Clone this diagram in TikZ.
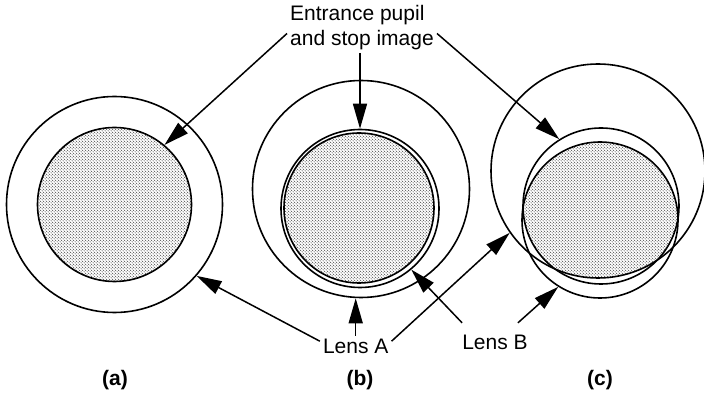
\documentclass[tikz,border=0pt]{standalone}
\usepackage{fontspec}
\setmainfont{Liberation Sans}
\usetikzlibrary{arrows.meta,patterns.meta}
\tikzdeclarepattern{
  name=speckdots,
  type=uncolored,
  bounding box={(0pt,0pt) and (3.4pt,3.4pt)},
  tile size={(3.4pt,3.4pt)},
  code={
    \fill (0.85pt,0.85pt) circle[radius=0.6pt];
    \fill (2.55pt,2.55pt) circle[radius=0.6pt];
  }
}

\begin{document}
\begin{tikzpicture}[x=1pt, y=-1pt,
  rim/.style={draw, circle, line width=1.6pt, inner sep=0pt, minimum size=#1},
  speckle/.style={pattern=speckdots, pattern color=black!80},
  lbl/.style={font=\fontsize{21pt}{25pt}\selectfont, inner sep=3pt},
  sub/.style={font=\fontsize{21pt}{25pt}\selectfont\bfseries, anchor=base},
  ar/.style={-{Triangle[length=25pt, width=14pt]}, line width=1.5pt},
]
\useasboundingbox (0,0) rectangle (704,395);

\node[rim=216pt] (rimAa) at (114.5,204.5) {};
\node[rim=154pt, speckle] (pupa) at (114.5,204.5) {};

\node[rim=217pt] (rimAb) at (361,189) {};
\node[rim=158pt] (pupb) at (360,208.5) {};
\node[rim=150pt, speckle] (rimBb) at (359,208) {};

\begin{scope}
  \clip (601,206) circle[radius=78pt];
  \clip (598,171) circle[radius=107pt];
  \fill[speckle] (600,220) circle[radius=78pt];
\end{scope}
\node[rim=214pt] (rimAc) at (598,171) {};
\node[rim=156pt] (pupc) at (601,206) {};
\node[rim=156pt] (rimBc) at (600,220) {};

\node[lbl, align=left, anchor=north west] (entr) at (287,2) {Entrance pupil\\and stop image};
\node[lbl, anchor=base] (lensA) at (355.7,353.3) {Lens A};
\node[lbl, anchor=base] (lensB) at (495,349.5) {Lens B};
\node[sub] (capa) at (115,385) {(a)};
\node[sub] (capb) at (360,385) {(b)};
\node[sub] (capc) at (600,385) {(c)};

\draw[ar] ([yshift=-6pt]entr.west) -- (pupa.50.9);
\draw[ar] (entr.south -| pupb.north) -- (pupb.north);
\draw[ar] ([yshift=-6pt]entr.east) -- (pupc.122.6);
\draw[ar] ([yshift=5pt]lensA.west) -- (rimAa.-41.3);
\draw[ar] (lensA.north) -- (lensA.north |- rimAb.south);
\draw[ar] ([yshift=5pt]lensA.east) -- (rimAc.215);
\draw[ar] ([xshift=3pt,yshift=9pt]lensB.north west) -- (pupb.-50.5);
\draw[ar] ([xshift=-13pt,yshift=9pt]lensB.north east) -- (rimBc.238);
\end{tikzpicture}
\end{document}
